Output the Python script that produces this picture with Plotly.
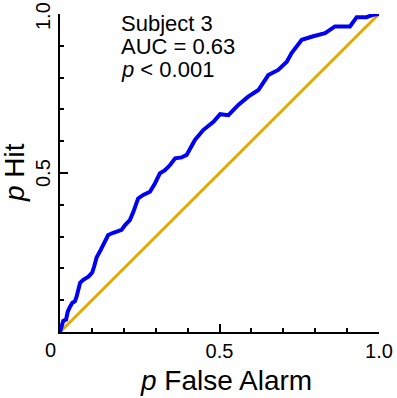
import plotly.graph_objects as go

# ROC curve data
p_false_alarm = [0.000, 0.005, 0.010, 0.019, 0.024, 0.031, 0.039, 0.047, 0.052, 0.063,
                 0.073, 0.089, 0.101, 0.107, 0.115, 0.125, 0.141, 0.151, 0.167, 0.193,
                 0.204, 0.219, 0.230, 0.245, 0.261, 0.282, 0.298, 0.313, 0.329, 0.345,
                 0.361, 0.381, 0.397, 0.413, 0.423, 0.449, 0.481, 0.502, 0.528, 0.559,
                 0.590, 0.622, 0.653, 0.684, 0.711, 0.726, 0.758, 0.794, 0.831, 0.862,
                 0.909, 0.930, 0.961, 0.982, 1.000]
p_hit = [0.000, 0.021, 0.035, 0.039, 0.063, 0.079, 0.092, 0.097, 0.111, 0.155,
         0.164, 0.174, 0.187, 0.206, 0.235, 0.253, 0.284, 0.305, 0.312, 0.321,
         0.336, 0.352, 0.378, 0.420, 0.431, 0.441, 0.468, 0.499, 0.509, 0.525,
         0.546, 0.549, 0.557, 0.588, 0.604, 0.635, 0.661, 0.685, 0.682, 0.714,
         0.740, 0.761, 0.808, 0.824, 0.850, 0.877, 0.919, 0.930, 0.940, 0.961,
         0.961, 0.990, 0.990, 0.998, 1.000]
chance_x = [0, 1]
chance_y = [0, 1]

x_tickvals = [0.5, 1.0]
x_ticktext = ["0.5", "1.0"]
y_tickvals = [0.5, 1.0]
y_ticktext = ["0.5", "1.0"]

info_lines = ["Subject 3", "AUC = 0.63", "<i>p</i> < 0.001"]

FONT = "Arial, 'Liberation Sans', sans-serif"

fig = go.Figure()
fig.add_trace(go.Scatter(x=chance_x, y=chance_y, mode="lines",
                         line=dict(color="#E3AA00", width=3), hoverinfo="skip"))
fig.add_trace(go.Scatter(x=p_false_alarm, y=p_hit, mode="lines",
                         line=dict(color="#0000F5", width=4)))

W, H = 397, 398
L, R, T, B = 60, 18, 14, 66
pw, ph = W - L - R, H - T - B

def px_x(px):
    return (px - L) / pw

def px_y(py):
    return (H - B - py) / ph

axis_common = dict(
    range=[0, 1], showgrid=False, zeroline=False, showline=True, automargin=False,
    linecolor="black", linewidth=2, ticks="inside", ticklen=8, tickwidth=2,
    tickcolor="black", mirror=False,
    tickfont=dict(family=FONT, size=20, color="black"),
    minor=dict(dtick=0.1, ticks="inside", ticklen=4, tickwidth=2, tickcolor="black"),
)

fig.update_xaxes(**axis_common, tickvals=x_tickvals, ticktext=x_ticktext)
# y tick labels are drawn as rotated annotations (below) at the major tick values
fig.update_yaxes(**axis_common, tickvals=y_tickvals, ticktext=["", ""])

annotations = []
for val, txt in zip(y_tickvals, y_ticktext):
    annotations.append(dict(text=txt, xref="paper", yref="y", x=px_x(43), y=val,
                            xanchor="center", yanchor="middle", textangle=-90,
                            showarrow=False, yshift=-2 if val == 1.0 else 0,
                            font=dict(family=FONT, size=20, color="black")))
for txt, yc in zip(info_lines, [23, 47, 70]):
    annotations.append(dict(text=txt, xref="paper", yref="paper", x=px_x(119), y=px_y(yc),
                            xanchor="left", yanchor="middle", showarrow=False,
                            font=dict(family=FONT, size=22, color="black")))
annotations.append(dict(text="0", xref="paper", yref="paper", x=px_x(50), y=px_y(350),
                        xanchor="center", yanchor="middle", showarrow=False,
                        font=dict(family=FONT, size=20, color="black")))
annotations.append(dict(text="<i>p</i> False Alarm", xref="paper", yref="paper",
                        x=px_x(226), y=px_y(380), xanchor="center", yanchor="middle",
                        showarrow=False, font=dict(family=FONT, size=28, color="black")))
annotations.append(dict(text="<i>p</i> Hit", xref="paper", yref="paper",
                        x=px_x(14), y=px_y(173), xanchor="center", yanchor="middle",
                        textangle=-90, showarrow=False,
                        font=dict(family=FONT, size=28, color="black")))

fig.update_layout(
    width=W, height=H, margin=dict(l=L, r=R, t=T, b=B, autoexpand=False),
    paper_bgcolor="white", plot_bgcolor="white", showlegend=False,
    annotations=annotations,
)

fig.write_html(
    "out.html",
    config={"displayModeBar": False},
    post_script="document.body.style.margin='0';document.body.style.overflow='hidden';"
                "document.documentElement.style.overflow='hidden';",
)
